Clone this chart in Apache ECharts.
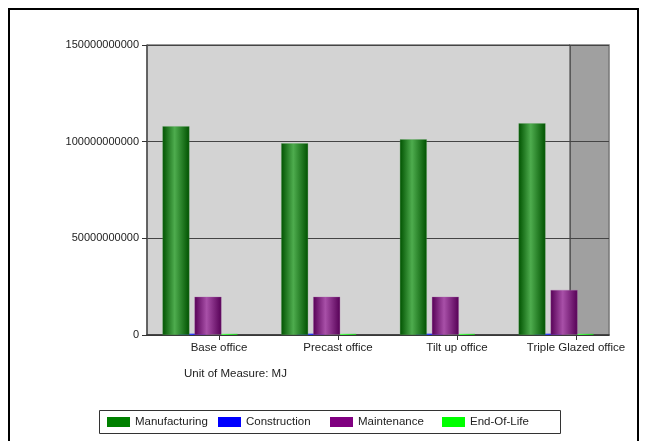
<!DOCTYPE html>
<html><head><meta charset="utf-8">
<script src="https://cdn.jsdelivr.net/npm/echarts@6/dist/echarts.min.js"></script>
<style>html,body{margin:0;padding:0;background:#fff;}#c{width:648px;height:441px;}</style>
</head><body><div id="c"></div>
<script>
const categories = ['Base office', 'Precast office', 'Tilt up office', 'Triple Glazed office'];
const seriesNames = ['Manufacturing', 'Construction', 'Maintenance', 'End-Of-Life'];
const manufacturing = [108000000000, 99200000000, 101200000000, 109500000000];
const construction = [700000000, 700000000, 700000000, 700000000];
const maintenance = [19800000000, 19800000000, 19800000000, 23300000000];
const endOfLife = [600000000, 600000000, 600000000, 600000000];
const yMin = 0, yMax = 150000000000, yInterval = 50000000000;
const unitText = 'Unit of Measure: MJ';

const FONT = "'Liberation Sans', Arial, sans-serif";
const legendColors = ['#008000', '#0000ff', '#800080', '#00ff00'];
const legendLefts = [107, 218, 330, 442];
function cyl(dark, light) {
  return {type: 'linear', x: 0, y: 0, x2: 1, y2: 0, colorStops: [
    {offset: 0, color: dark}, {offset: 0.45, color: light}, {offset: 1, color: dark}]};
}
const chart = echarts.init(document.getElementById('c'), null, {renderer: 'canvas'});
const hiddenX = (g) => ({type: 'category', data: categories, gridIndex: g, show: false});
const hiddenY = (g) => ({type: 'value', min: yMin, max: yMax, interval: yInterval, gridIndex: g, show: false});
const barCommon = {type: 'bar', xAxisIndex: 3, yAxisIndex: 3, barWidth: 27, barGap: '-40.7%'};
chart.setOption({
  animation: false,
  textStyle: {fontFamily: FONT},
  title: {text: unitText, left: 184, top: 368, padding: 0, textStyle: {fontSize: 11.5, fontWeight: 'normal', color: '#222', fontFamily: FONT}},
  graphic: [
    {type: 'rect', shape: {x: 9, y: 9, width: 629, height: 520}, style: {fill: 'none', stroke: '#000', lineWidth: 2}, z: 100},
    {type: 'rect', shape: {x: 99.5, y: 410.5, width: 461, height: 23}, style: {fill: 'none', stroke: '#333', lineWidth: 1}, z: 100}
  ],
  grid: [
    {left: 147, right: 648 - 570, top: 45, bottom: 106, show: true, backgroundColor: '#d3d3d3', borderColor: '#333', borderWidth: 1, z: -2},
    {left: 570, right: 648 - 609, top: 45, bottom: 106, show: true, backgroundColor: '#a0a0a0', borderColor: '#777', borderWidth: 1.5, z: -3},
    {left: 147, right: 648 - 609, top: 45, bottom: 106},
    {left: 140.65, right: 648 - 615.4, top: 45, bottom: 106},
    {left: 159.5, right: 648 - 635.5, top: 45, bottom: 106}
  ],
  xAxis: [
    hiddenX(0), hiddenX(1),
    {type: 'category', data: categories, gridIndex: 2, axisLine: {show: true, lineStyle: {color: '#333', width: 1.5}}, axisTick: {show: false}, axisLabel: {show: false}},
    hiddenX(3),
    {type: 'category', data: categories, gridIndex: 4, axisLine: {show: false}, axisTick: {show: true, alignWithLabel: true, length: 5, lineStyle: {color: '#333'}},
     axisLabel: {show: true, interval: 0, margin: 7, fontSize: 11.5, color: '#222', fontFamily: FONT}}
  ],
  yAxis: [
    hiddenY(0), hiddenY(1),
    {type: 'value', min: yMin, max: yMax, interval: yInterval, gridIndex: 2,
     axisLine: {show: true, lineStyle: {color: '#555', width: 1.5}},
     axisTick: {show: true, length: 5, lineStyle: {color: '#333'}},
     axisLabel: {margin: 8, fontSize: 11, color: '#222', fontFamily: FONT, formatter: v => String(v)},
     splitLine: {show: true, lineStyle: {color: '#444', width: 1.2}}},
    hiddenY(3), hiddenY(4)
  ],
  legend: seriesNames.map((n, i) => ({
    left: legendLefts[i], top: 416, padding: 0,
    itemWidth: 23, itemHeight: 10, itemGap: 0, icon: 'rect', selectedMode: false,
    textStyle: {fontSize: 11.5, color: '#222', fontFamily: FONT},
    itemStyle: {borderWidth: 0},
    data: [{name: n, itemStyle: {color: legendColors[i], borderWidth: 0}}]
  })),
  series: [
    Object.assign({}, barCommon, {name: seriesNames[0], data: manufacturing, z: 4,
      itemStyle: {color: cyl('#005200', '#4eac4e'), borderColor: 'rgba(90,160,90,0.6)', borderWidth: 0.5}}),
    Object.assign({}, barCommon, {name: seriesNames[1], data: construction, z: 3,
      itemStyle: {color: cyl('#0000c0', '#3040ff')}}),
    Object.assign({}, barCommon, {name: seriesNames[2], data: maintenance, z: 4,
      itemStyle: {color: cyl('#560056', '#a850a8'), borderColor: 'rgba(170,100,170,0.6)', borderWidth: 0.5}}),
    Object.assign({}, barCommon, {name: seriesNames[3], data: endOfLife, z: 3,
      itemStyle: {color: cyl('#20c020', '#50ff50')}})
  ]
});
</script></body></html>
